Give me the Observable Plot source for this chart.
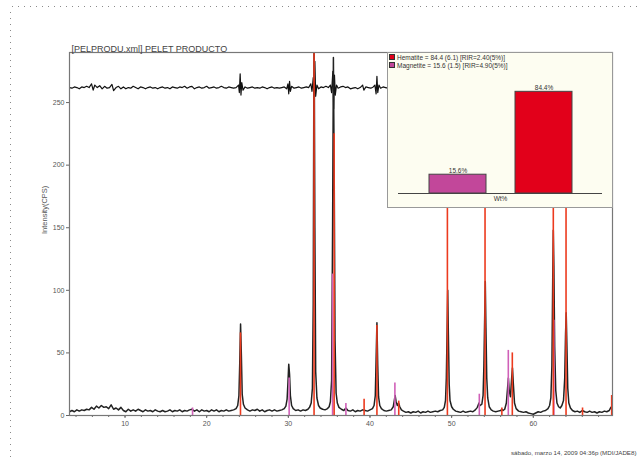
<!DOCTYPE html>
<html>
<head>
<meta charset="utf-8">
<script src="https://cdn.jsdelivr.net/npm/d3@7"></script>
<script src="https://cdn.jsdelivr.net/npm/@observablehq/plot@0.6"></script>
<style>
  html, body { margin: 0; padding: 0; background: #fff; overflow: hidden; }
  #page { position: relative; width: 638px; height: 462px; font-family: "Liberation Sans", Arial, sans-serif; overflow: hidden; }
  #main { position: absolute; left: 0; top: 0; }
  #inset { position: absolute; left: 387px; top: 52px; width: 224px; height: 154px; background: #fdfdf1; border: 1px solid #999; }
  #inset svg { position: absolute; left: 0; top: 0; }
  .lg { position: absolute; left: 1px; font-size: 6.5px; color: #333; white-space: nowrap; line-height: 7px; }
  .sw { display: inline-block; width: 6px; height: 6px; border: 1px solid #333; vertical-align: top; margin-right: 2px; box-sizing: border-box; }
  #dotTop { position: absolute; left: 12px; top: 6px; width: 626px; height: 1px; background: repeating-linear-gradient(to right, #8a8a8a 0 1px, transparent 1px 6px); }
  #dotLeft { position: absolute; left: 10px; top: 12px; width: 1px; height: 450px; background: repeating-linear-gradient(to bottom, #8a8a8a 0 1px, transparent 1px 6px); }
</style>
</head>
<body>
<div id="page">
  <div id="dotTop"></div>
  <div id="dotLeft"></div>
  <div id="main"></div>
  <div id="inset"></div>
</div>
<script>
// ---------- DATA ----------
const chartTitle = "[PELPRODU.xml] PELET PRODUCTO";
const yLabel = "Intensity(CPS)";
const footerText = "sábado, marzo 14, 2009 04:36p (MDI/JADE8)";
const yTicks = [0, 50, 100, 150, 200, 250];
const xLabelTicks = [10, 20, 30, 40, 50, 60];
const xMinorTicks = [4, 6, 8, 10, 12, 14, 16, 18, 20, 22, 24, 26, 28, 30, 32, 34, 36, 38, 40, 42, 44, 46, 48, 50, 52, 54, 56, 58, 60, 62, 64, 66, 68];

// observed pattern [2theta, CPS]
const patternPoints = [
[3.2,3],[3.5,4],[3.8,3],[4.1,4.5],[4.4,3.5],[4.7,4.5],[5.0,4],[5.3,5],[5.6,4.5],[5.9,6.5],[6.2,5],[6.5,7.5],[6.8,6],[7.1,8],[7.4,6.5],[7.7,7],[8.0,5.5],[8.3,8.5],[8.6,5],[8.9,6],[9.2,4.5],[9.5,6.5],[9.8,4],[10.1,3],[10.4,5],[10.7,3.5],[11.0,4.5],[11.3,3.5],[11.6,5],[11.9,4],[12.2,3],[12.5,4.5],[12.8,3.5],[13.1,4],[13.4,3],[13.7,4.5],[14.0,3.5],[14.3,3],[14.6,4],[14.9,3],[15.2,3.5],[15.5,4.5],[15.8,3],[16.1,4],[16.4,3.5],[16.7,4.5],[17.0,3],[17.3,4],[17.6,3.5],[17.9,4.5],[18.2,5],[18.5,3.5],[18.8,4.5],[19.1,3],[19.4,4.5],[19.7,3.5],[20.0,4],[20.3,3],[20.6,4.5],[20.9,3.5],[21.2,4.5],[21.5,3],[21.8,4],[22.1,3.5],[22.4,4.5],[22.7,3.5],[23.0,4],[23.3,4.5],
[23.6,5.5],[23.8,8],[23.95,16],[24.05,42],[24.15,73],[24.25,48],[24.35,17],[24.5,9],[24.7,6],[25.0,4.5],
[25.3,3.5],[25.6,4.5],[25.9,4],[26.2,5],[26.5,3.5],[26.8,4.5],[27.1,3],[27.4,4],[27.7,4.5],[28.0,3.5],[28.3,4.5],[28.6,3.5],[28.9,4],[29.2,4.5],[29.5,5.5],[29.7,7.5],[29.85,13],[29.95,26],[30.05,41],[30.15,33],[30.25,16],[30.4,8],[30.6,5.5],[30.9,4],[31.2,4.5],[31.5,3.5],[31.8,4.5],[32.1,4],[32.4,5],[32.6,6.5],[32.8,10],[32.95,22],[33.05,90],[33.15,330],[33.25,150],[33.35,35],[33.5,14],[33.7,8],[33.9,6],[34.2,5],[34.5,4.5],[34.8,5.5],[35.0,7],[35.15,11],[35.3,28],[35.42,150],[35.52,286],[35.62,190],[35.72,60],[35.85,18],[36.0,10],[36.2,6.5],[36.5,5],[36.8,4],[37.05,6],[37.3,4],[37.6,3.5],[37.9,4.5],[38.2,3],[38.5,4],[38.8,3.5],[39.1,4.5],[39.4,4],[39.7,3.5],[40.0,4.5],[40.3,5.5],[40.5,8],[40.65,16],[40.75,45],[40.85,74],[40.95,40],[41.05,15],[41.2,8],[41.4,5.5],[41.7,4],[42.0,3.5],[42.3,4],[42.6,4.5],[42.85,7],[42.98,12],[43.08,16],[43.2,11],[43.35,8],[43.5,10],[43.65,7],[43.85,4.5],[44.1,3.5],[44.4,2.5],[44.7,3],[45.0,2],[45.3,3],[45.6,2.5],[45.9,3.5],[46.2,2],[46.5,3],[46.8,2.5],[47.1,3.5],[47.4,2.5],[47.7,3],[48.0,3.5],[48.3,3],[48.6,4],[48.9,4.5],[49.1,6.5],[49.25,12],[49.35,30],[49.45,70],[49.52,100],[49.6,65],[49.7,25],[49.8,12],[50.0,7],[50.2,5],[50.5,3.5],[50.8,3],[51.1,2.5],[51.4,3.5],[51.7,2.5],[52.0,3],[52.3,3.5],[52.6,3],[52.9,4.5],[53.15,6.5],[53.35,10],[53.5,8],[53.7,9],[53.85,16],[53.95,40],[54.05,80],[54.12,107],[54.2,70],[54.3,30],[54.42,14],[54.6,7],[54.85,4.5],[55.1,3.5],[55.4,3],[55.7,3.5],[56.0,4],[56.15,5],[56.3,4],[56.5,5],[56.7,10],[56.85,22],[56.95,30],[57.05,20],[57.2,15],[57.35,30],[57.45,38],[57.55,26],[57.7,10],[57.9,5.5],[58.2,3.5],[58.5,3],[58.8,2.5],[59.1,3],[59.4,2],[59.7,1.5],[60.0,1],[60.3,2],[60.6,3],[60.9,2.5],[61.2,3.5],[61.5,4],[61.8,5.5],[62.0,8],[62.15,14],[62.28,40],[62.38,110],[62.45,148],[62.52,120],[62.62,55],[62.75,20],[62.9,10],[63.1,7],[63.3,6],[63.5,8],[63.7,12],[63.85,30],[63.95,65],[64.03,82],[64.12,55],[64.22,22],[64.35,10],[64.55,6],[64.8,4],[65.1,3],[65.4,3.5],[65.7,2.5],[66.0,4],[66.3,3],[66.6,2.5],[66.9,3.5],[67.2,2.5],[67.5,3],[67.8,2],[68.1,3],[68.4,2.5],[68.7,3.5],[69.0,3],[69.3,4],[69.5,6.5],[69.6,7],[69.7,5]
];

// difference (offset) pattern [2theta, CPS]
const differencePoints = [
[3.2,262],[3.5,261.5],[3.8,262.5],[4.1,262],[4.4,261],[4.7,262.5],[5.0,262],[5.3,263],[5.6,262],[5.9,265],[6.1,260],[6.3,264],[6.6,262],[6.9,263.5],[7.2,261],[7.5,263],[7.8,261.5],[8.1,262],[8.4,264.5],[8.6,259.5],[8.9,262],[9.2,263],[9.5,261],[9.8,262.5],[10.1,261],[10.4,262],[10.7,261.5],[11.0,263],[11.3,262],[11.6,261],[11.9,262.5],[12.2,262],[12.5,261],[12.8,262],[13.1,262.5],[13.4,261.5],[13.7,262],[14.0,261],[14.3,262],[14.6,262.5],[14.9,261.5],[15.2,262],[15.5,261],[15.8,262.5],[16.1,262],[16.4,261.5],[16.7,262.5],[17.0,262],[17.3,263],[17.6,261.5],[17.9,262.5],[18.2,263],[18.5,261],[18.8,262],[19.1,262.5],[19.4,261.5],[19.7,262],[20.0,263],[20.3,261.5],[20.6,262],[20.9,262.5],[21.2,261.5],[21.5,262],[21.8,263],[22.1,262],[22.4,261.5],[22.7,262.5],[23.0,262],[23.3,261.5],[23.6,262],[23.9,264],[24.0,258],[24.1,273],[24.2,256],[24.3,266],[24.45,260],[24.7,262.5],[25.0,261.5],[25.3,262],[25.6,262.5],[25.9,261.5],[26.2,262],[26.5,261.5],[26.8,262.5],[27.1,262],[27.4,261],[27.7,262],[28.0,262.5],[28.3,261.5],[28.6,262],[28.9,261.5],[29.2,262],[29.5,262.5],[29.8,261],[29.95,265],[30.05,257],[30.15,267],[30.25,259],[30.4,263],[30.7,261.5],[31.0,262],[31.3,262.5],[31.6,261.5],[31.9,262],[32.2,262.5],[32.5,262],[32.75,265],[32.9,259],[33.05,270],[33.15,250],[33.25,283],[33.35,255],[33.5,264],[33.7,261],[34.0,262.5],[34.3,262],[34.6,263],[34.9,262],[35.15,264],[35.3,258],[35.45,275],[35.55,245],[35.65,272],[35.75,256],[35.9,264],[36.1,261.5],[36.4,262.5],[36.7,263],[37.0,262],[37.3,262.5],[37.6,261],[37.9,261.5],[38.2,262],[38.5,261],[38.8,262],[39.1,264],[39.25,260],[39.5,262.5],[39.8,262],[40.1,261.5],[40.4,262.5],[40.6,264],[40.75,257],[40.85,271],[40.95,258],[41.1,264],[41.3,261.5],[41.6,262.5],[41.9,262],[42.2,261.5],[42.5,262]
];

// reference sticks
const hematitePos = [24.14, 33.15, 35.61, 39.28, 40.85, 43.52, 49.48, 54.09, 56.15, 57.43, 62.45, 64.01, 66.03, 69.60];
const hematiteCPS = [66, 320, 225, 13, 72, 11.5, 200, 200, 6, 50, 200, 200, 6, 16];
const magnetitePos = [18.27, 30.10, 35.42, 37.05, 43.05, 53.39, 56.94, 62.52];
const magnetiteCPS = [6, 30, 113, 9.5, 26, 17, 52, 76];

// inset: weight percent
const phases = ["Magnetite", "Hematite"];
const wtPercent = [15.6, 84.4];
const phaseLegend = ["Hematite = 84.4 (6.1) [RIR=2.40(5%)]", "Magnetite = 15.6 (1.5) [RIR=4.90(5%)]"];
const insetAxisLabel = "Wt%";

// ---------- BUILD ----------
const hemColor = "#ec3a1e";
const magColor = "#d060b8";
const font = '"Liberation Sans", Arial, sans-serif';

const pattern = patternPoints.map(([x, y]) => ({x, y}));
const diff = differencePoints.map(([x, y]) => ({x, y}));
const sticks = [
  ...hematitePos.map((x, i) => ({x, y: hematiteCPS[i], phase: "Hematite"})),
  ...magnetitePos.map((x, i) => ({x, y: magnetiteCPS[i], phase: "Magnetite"}))
];

const main = Plot.plot({
  width: 638, height: 462,
  marginLeft: 69, marginRight: 26, marginTop: 52, marginBottom: 47,
  x: {domain: [3.2, 69.7]},
  y: {domain: [0, 290]},
  style: {fontFamily: font, fontSize: "7px", color: "#555", background: "transparent", overflow: "visible"},
  marks: [
    Plot.axisY({ticks: yTicks, tickSize: 3, tickPadding: 2, label: null, stroke: "#666", fill: "#555", fontSize: 7}),
    Plot.axisX({ticks: xMinorTicks, tickSize: 2, tickFormat: () => "", label: null, stroke: "#666"}),
    Plot.axisX({ticks: xLabelTicks, tickSize: 3, tickPadding: 3, label: null, stroke: "#666", fill: "#555", fontSize: 7}),
    Plot.line(diff, {x: "x", y: "y", stroke: "#111", strokeWidth: 1.2, clip: true}),
    Plot.line(pattern, {x: "x", y: "y", stroke: "#222", strokeWidth: 1.5, clip: true}),
    Plot.ruleX(sticks.filter(d => d.phase === "Magnetite"), {x: "x", y1: 0, y2: "y", stroke: magColor, strokeWidth: 1.6, clip: true}),
    Plot.ruleX(sticks.filter(d => d.phase === "Hematite"), {x: "x", y1: 0, y2: "y", stroke: hemColor, strokeWidth: 1.6, clip: true}),
    Plot.frame({stroke: "#777", strokeWidth: 1.2}),
    Plot.text([chartTitle], {frameAnchor: "top-left", textAnchor: "start", lineAnchor: "bottom", dx: 2, dy: -1, fontSize: 9, fill: "#444"}),
    Plot.text([yLabel], {frameAnchor: "left", rotate: -90, dx: -25, fontSize: 7.5, fill: "#555"}),
    Plot.text([footerText], {frameAnchor: "bottom-right", textAnchor: "end", dx: 24, dy: 39, fontSize: 6.2, fill: "#444"})
  ]
});
document.getElementById("main").appendChild(main);

const insetData = phases.map((p, i) => ({phase: p, wt: wtPercent[i]}));
const inset = Plot.plot({
  width: 224, height: 154,
  marginLeft: 10, marginRight: 10, marginTop: 0, marginBottom: 14,
  x: {domain: phases, paddingInner: 0.34, paddingOuter: 0.355, axis: null},
  y: {domain: [0, 116.2], axis: null},
  color: {domain: phases, range: ["#c2479a", "#e2001a"]},
  style: {fontFamily: font, background: "transparent", overflow: "visible"},
  marks: [
    Plot.barY(insetData, {x: "phase", y: "wt", fill: "phase", stroke: "#444", strokeWidth: 1}),
    Plot.ruleY([0], {stroke: "#444", strokeWidth: 1}),
    Plot.text(insetData, {x: "phase", y: "wt", text: d => d.wt.toFixed(1) + "%", dy: -4, fontSize: 6.5, fill: "#333"}),
    Plot.text([insetAxisLabel], {frameAnchor: "bottom", dy: 7, fontSize: 6.5, fill: "#333"})
  ]
});
const insetDiv = document.getElementById("inset");
insetDiv.appendChild(inset);
const legendColors = ["#e2001a", "#c2479a"];
phaseLegend.forEach((t, i) => {
  const d = document.createElement("div");
  d.className = "lg";
  d.style.top = (1 + i * 8) + "px";
  d.innerHTML = `<span class="sw" style="background:${legendColors[i]}"></span>${t}`;
  insetDiv.appendChild(d);
});
</script>
</body>
</html>
